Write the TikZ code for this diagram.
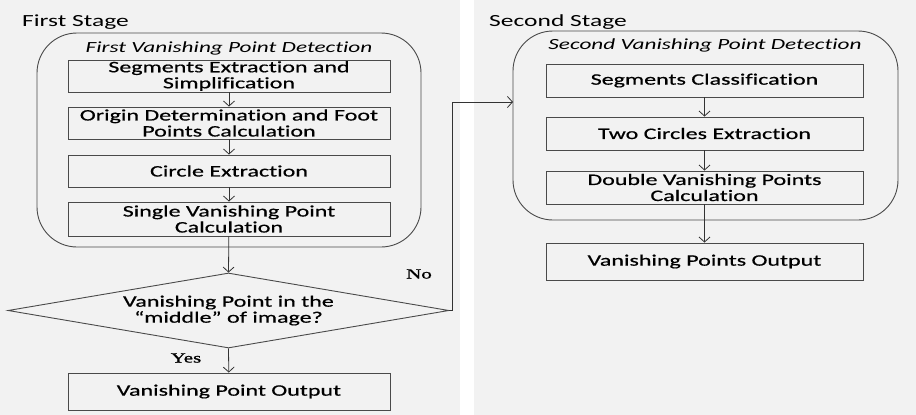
\documentclass[tikz,border=0pt]{standalone}
\usepackage{fontspec}
\setmainfont{Carlito}[FakeStretch=1.5, FakeBold=0.6, RawFeature=-liga]
\newfontfamily\plainfam{Carlito}[FakeStretch=1.5, RawFeature=-liga]
\newfontfamily\serifl{Liberation Serif}[FakeStretch=1.5, FakeBold=1.2]
\usetikzlibrary{shapes.geometric,arrows.meta}
\definecolor{panelbg}{HTML}{F2F2F2}
\definecolor{edge}{HTML}{4A4A4A}
\tikzset{
  box/.style={draw=edge, line width=0.9pt, minimum width=322pt, minimum height=32pt, inner sep=0pt, align=center, font=\fontsize{16}{16}\selectfont},
  grp/.style={draw=edge, line width=0.9pt, rounded corners=40pt},
  arr/.style={draw=black!80, line width=0.8pt, -{Straight Barb[length=5pt,width=11pt]}},
  stage/.style={anchor=base west, inner sep=0pt, font=\fontsize{17}{18}\selectfont\plainfam},
  gtitle/.style={inner sep=0pt, font=\fontsize{15.5}{16}\selectfont\plainfam\itshape},
  lbl/.style={inner sep=0pt, font=\fontsize{14}{15}\selectfont\serifl}
}
\begin{document}
\begin{tikzpicture}[x=1pt,y=-1pt]
\useasboundingbox (0,0) rectangle (916,415);
\fill[white] (0,0) rectangle (916,415);
\fill[panelbg] (0,0) rectangle (460,415);
\fill[panelbg] (474,0) rectangle (916,415);
% left stage
\node[stage] (s1) at (22,26) {First Stage};
\draw[grp] (37,33) rectangle (421,247);
\node[gtitle] (t1) at (229,48) {First Vanishing Point Detection};
\node[box] (b1) at (229,76) {Segments Extraction and\\Simplification};
\node[box] (b2) at (229,123) {Origin Determination and Foot\\Points Calculation};
\node[box] (b3) at (229,171) {Circle Extraction};
\node[box, minimum height=34pt] (b4) at (229,219) {Single Vanishing Point\\Calculation};
\node[draw=edge, line width=0.9pt, diamond, shape aspect=5.88, minimum width=441pt, minimum height=75pt, inner sep=0pt, align=center, font=\fontsize{16}{16}\selectfont] (dia) at (228.5,310.5) {Vanishing Point in the\\``middle'' of image?};
\node[box, minimum height=37pt] (b5) at (229,391.5) {Vanishing Point Output};
\node[lbl] (no) at (419,274) {No};
\node[lbl] (yes) at (186,358) {Yes};
\draw[arr] (b1) -- (b2);
\draw[arr] (b2) -- (b3);
\draw[arr] (b3) -- (b4);
\draw[arr] (b4) -- (dia.north);
\draw[arr] (dia.south) -- (b5);
% right stage
\node[stage] (s2) at (489,26) {Second Stage};
\draw[grp] (513,31) rectangle (898,220);
\coordinate (g2w) at (513,102);
\coordinate (turn) at (452,102);
\node[gtitle] (t2) at (705,45) {Second Vanishing Point Detection};
\node[box, minimum width=317pt, minimum height=33pt] (ra) at (704.5,80.5) {Segments Classification};
\node[box, minimum width=317pt, minimum height=33pt] (rb) at (704.5,133.5) {Two Circles Extraction};
\node[box, minimum width=317pt, minimum height=33pt] (rc) at (704.5,187.5) {Double Vanishing Points\\Calculation};
\node[box, minimum width=317pt, minimum height=37pt] (rd) at (704.5,261.5) {Vanishing Points Output};
\draw[arr] (ra) -- (rb);
\draw[arr] (rb) -- (rc);
\draw[arr] (rc) -- (rd);
\draw[arr] (dia.east) -| (turn) -- (g2w);
\end{tikzpicture}
\end{document}
